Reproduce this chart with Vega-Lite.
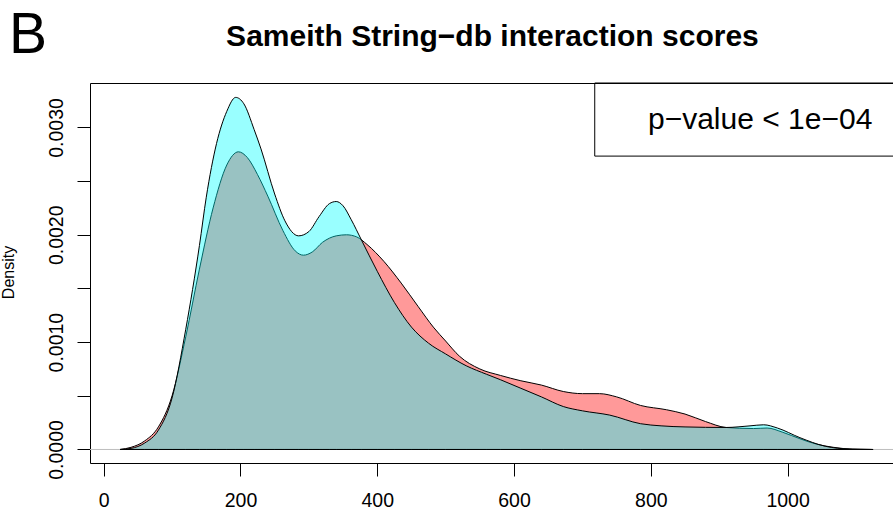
{
  "$schema": "https://vega.github.io/schema/vega-lite/v6.json",
  "autosize": "none",
  "padding": {"left": 90, "top": 83, "right": 0, "bottom": 49},
  "width": 805,
  "height": 380,
  "config": {
    "font": "Liberation Sans",
    "view": {"stroke": "black", "strokeWidth": 1},
    "axis": {"grid": false, "domain": false, "tickColor": "black", "labelColor": "black", "titleColor": "black"}
  },
  "datasets": {
    "red": [
      {"x": 24, "y": 0}, {"x": 40, "y": 0.00002}, {"x": 60, "y": 0.00008}, {"x": 80, "y": 0.00021},
      {"x": 100, "y": 0.0005}, {"x": 120, "y": 0.00105}, {"x": 140, "y": 0.00168}, {"x": 160, "y": 0.00225},
      {"x": 180, "y": 0.00265}, {"x": 197, "y": 0.002773}, {"x": 210, "y": 0.00272}, {"x": 225, "y": 0.00256},
      {"x": 240, "y": 0.00236}, {"x": 262, "y": 0.00204}, {"x": 280, "y": 0.00185}, {"x": 292, "y": 0.00181},
      {"x": 305, "y": 0.00184}, {"x": 320, "y": 0.00193}, {"x": 340, "y": 0.00199}, {"x": 355, "y": 0.002},
      {"x": 370, "y": 0.00198}, {"x": 385, "y": 0.00191}, {"x": 410, "y": 0.00175}, {"x": 435, "y": 0.00155},
      {"x": 460, "y": 0.00133}, {"x": 482, "y": 0.00114}, {"x": 500, "y": 0.00101}, {"x": 520, "y": 0.00087},
      {"x": 550, "y": 0.00075}, {"x": 580, "y": 0.00069}, {"x": 610, "y": 0.00064}, {"x": 640, "y": 0.0006},
      {"x": 672, "y": 0.00054}, {"x": 700, "y": 0.00052}, {"x": 725, "y": 0.00052}, {"x": 750, "y": 0.00049},
      {"x": 785, "y": 0.00041}, {"x": 823, "y": 0.00037}, {"x": 850, "y": 0.00033}, {"x": 880, "y": 0.00026},
      {"x": 910, "y": 0.000205}, {"x": 950, "y": 0.000195}, {"x": 970, "y": 0.0002}, {"x": 993, "y": 0.00016},
      {"x": 1018, "y": 0.0001}, {"x": 1042, "y": 0.00005}, {"x": 1067, "y": 0.00002}, {"x": 1095, "y": 0.000003},
      {"x": 1125, "y": 0}
    ],
    "cyan": [
      {"x": 24, "y": 0}, {"x": 40, "y": 0.00001}, {"x": 60, "y": 0.00006}, {"x": 80, "y": 0.00018},
      {"x": 100, "y": 0.00048}, {"x": 120, "y": 0.00112}, {"x": 140, "y": 0.0019}, {"x": 150, "y": 0.00235},
      {"x": 165, "y": 0.00285}, {"x": 180, "y": 0.00315}, {"x": 193, "y": 0.00328}, {"x": 205, "y": 0.00322},
      {"x": 220, "y": 0.00298}, {"x": 230, "y": 0.0028}, {"x": 250, "y": 0.00238}, {"x": 265, "y": 0.00213},
      {"x": 285, "y": 0.00199}, {"x": 300, "y": 0.00203}, {"x": 315, "y": 0.00217}, {"x": 330, "y": 0.00229},
      {"x": 340, "y": 0.00231}, {"x": 350, "y": 0.00227}, {"x": 362, "y": 0.00214}, {"x": 377, "y": 0.00195},
      {"x": 400, "y": 0.00166}, {"x": 425, "y": 0.00137}, {"x": 450, "y": 0.00114}, {"x": 475, "y": 0.00099},
      {"x": 500, "y": 0.00089}, {"x": 530, "y": 0.00078}, {"x": 560, "y": 0.0007}, {"x": 580, "y": 0.00065},
      {"x": 610, "y": 0.00057}, {"x": 640, "y": 0.00049}, {"x": 672, "y": 0.0004}, {"x": 700, "y": 0.00036},
      {"x": 740, "y": 0.00032}, {"x": 785, "y": 0.00024}, {"x": 815, "y": 0.00022}, {"x": 850, "y": 0.00021},
      {"x": 910, "y": 0.000205}, {"x": 945, "y": 0.00022}, {"x": 965, "y": 0.00023}, {"x": 985, "y": 0.0002},
      {"x": 1018, "y": 0.00011}, {"x": 1055, "y": 0.00003}, {"x": 1090, "y": 0.000004}, {"x": 1123, "y": 0}
    ]
  },
  "layer": [
    {
      "data": {"values": [{}]},
      "mark": {"type": "rule", "color": "#BEBEBE", "strokeWidth": 1},
      "encoding": {
        "y": {"datum": 0, "type": "quantitative",
          "scale": {"domain": [-0.000126, 0.003414], "nice": false, "zero": false},
          "axis": {
            "values": [0, 0.0005, 0.001, 0.0015, 0.002, 0.0025, 0.003],
            "labelExpr": "round(datum.value * 2000) % 2 == 0 ? format(datum.value, '.4f') : ''",
            "tickSize": 13, "labelPadding": 15, "labelFontSize": 19.5,
            "labelAngle": -90, "labelAlign": "center", "labelBaseline": "alphabetic",
            "labelFlush": false, "labelOverlap": false,
            "title": "Density", "titleFontSize": 16, "titleFontWeight": "normal",
            "titleX": -82, "titleY": 189, "titleAngle": -90, "titleAlign": "center", "titleBaseline": "middle"
          }
        }
      }
    },
    {
      "data": {"name": "red"},
      "mark": {"type": "area", "interpolate": "monotone", "fill": "#FF0000", "fillOpacity": 0.4, "stroke": "black", "strokeWidth": 1},
      "encoding": {
        "x": {"field": "x", "type": "quantitative",
          "scale": {"domain": [-20, 1157], "nice": false, "zero": false},
          "axis": {
            "values": [0, 200, 400, 600, 800, 1000], "format": "d",
            "tickSize": 13, "labelPadding": 15, "labelFontSize": 19.5,
            "labelFlush": false, "labelOverlap": false, "title": null
          }
        },
        "y": {"field": "y", "type": "quantitative"}
      }
    },
    {
      "data": {"name": "cyan"},
      "mark": {"type": "area", "interpolate": "monotone", "fill": "#00FFFF", "fillOpacity": 0.4, "stroke": "black", "strokeWidth": 1},
      "encoding": {
        "x": {"field": "x", "type": "quantitative"},
        "y": {"field": "y", "type": "quantitative"}
      }
    },
    {
      "data": {"values": [{}]},
      "mark": {"type": "rect", "fill": "white", "fillOpacity": 0, "stroke": "black", "strokeWidth": 1},
      "encoding": {
        "x": {"datum": 718, "type": "quantitative"},
        "x2": {"datum": 1220},
        "y": {"datum": 0.002733, "type": "quantitative"},
        "y2": {"datum": 0.003414}
      }
    },
    {
      "data": {"values": [{}]},
      "mark": {"type": "text", "text": "p−value < 1e−04", "fontSize": 30, "align": "left", "baseline": "alphabetic", "color": "black"},
      "encoding": {
        "x": {"datum": 795.8, "type": "quantitative"},
        "y": {"datum": 0.002985, "type": "quantitative"}
      }
    },
    {
      "data": {"values": [{}]},
      "mark": {"type": "text", "text": "Sameith String−db interaction scores", "fontSize": 30, "fontWeight": "bold", "align": "center", "baseline": "alphabetic", "color": "black"},
      "encoding": {
        "x": {"datum": 568.4, "type": "quantitative"},
        "y": {"datum": 0.003758, "type": "quantitative"}
      }
    },
    {
      "data": {"values": [{}]},
      "mark": {"type": "text", "text": "B", "fontSize": 57, "align": "left", "baseline": "alphabetic", "color": "black"},
      "encoding": {
        "x": {"datum": -138.5, "type": "quantitative"},
        "y": {"datum": 0.003692, "type": "quantitative"}
      }
    }
  ]
}
